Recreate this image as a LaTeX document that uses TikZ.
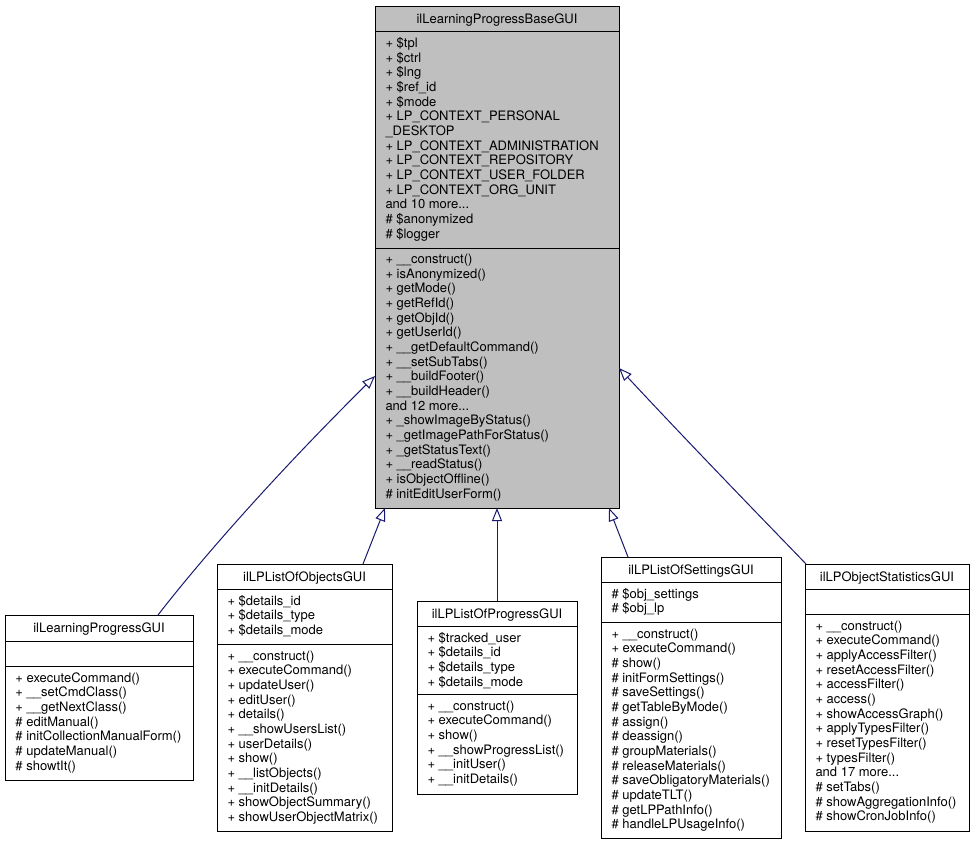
\documentclass[tikz,border=0pt]{standalone}
\usepackage{fontspec}
\setmainfont{TeX Gyre Heros}
\usetikzlibrary{arrows.meta,calc}
\definecolor{edgeblue}{HTML}{191970}
\definecolor{basegray}{HTML}{BFBFBF}
\tikzset{
  classbox/.style={draw=black, line width=1pt, inner sep=0pt, outer sep=0pt, anchor=north west},
  sepline/.style={draw=black, line width=1pt},
  txt/.style={inner sep=0pt, outer sep=0pt, font=\fontsize{13}{14.67}\selectfont},
  inh/.style={draw=edgeblue, line width=1pt, -{Triangle[length=13pt,width=10pt,fill=white]}},
}
\newcommand{\andmore}[1]{and #1 more...}
\newcommand{\umllines}[4]{\foreach \t [count=\i] in {#4} {\node[txt, anchor=base west] (#1-\i) at (#2, {#3+(\i-1)*14.67}) {\t};}}
\begin{document}
\begin{tikzpicture}[x=1pt, y=-1pt]
\useasboundingbox (0,0) rectangle (974,844);

% ---------- base class ----------
\node[classbox, fill=basegray, minimum width=244pt, minimum height=502pt] (base) at (375,6) {};
\node[txt, anchor=base] (base-t) at (497,23) {ilLearningProgressBaseGUI};
\draw[sepline] (375,31) -- (619,31);
\draw[sepline] (375,248) -- (619,248);
\umllines{base-a}{385.5}{47.5}{+ \$tpl, + \$ctrl, + \$lng, + \$ref\_id, + \$mode, + LP\_CONTEXT\_PERSONAL, \_DESKTOP, + LP\_CONTEXT\_ADMINISTRATION, + LP\_CONTEXT\_REPOSITORY, + LP\_CONTEXT\_USER\_FOLDER, + LP\_CONTEXT\_ORG\_UNIT, \andmore{10}, \# \$anonymized, \# \$logger}
\umllines{base-m}{385.5}{263.5}{+ \_\_construct(), + isAnonymized(), + getMode(), + getRefId(), + getObjId(), + getUserId(), + \_\_getDefaultCommand(), + \_\_setSubTabs(), + \_\_buildFooter(), + \_\_buildHeader(), \andmore{12}, + \_showImageByStatus(), + \_getImagePathForStatus(), + \_getStatusText(), + \_\_readStatus(), + isObjectOffline(), \# initEditUserForm()}

% ---------- ilLearningProgressGUI ----------
\node[classbox, fill=white, minimum width=188pt, minimum height=165pt] (lp) at (5,615) {};
\node[txt, anchor=base] (lp-t) at (99,632) {ilLearningProgressGUI};
\draw[sepline] (5,641) -- (193,641);
\draw[sepline] (5,666) -- (193,666);
\umllines{lp-m}{15.5}{682}{+ executeCommand(), + \_\_setCmdClass(), + \_\_getNextClass(), \# editManual(), \# initCollectionManualForm(), \# updateManual(), \# showtIt()}

% ---------- ilLPListOfObjectsGUI ----------
\node[classbox, fill=white, minimum width=175pt, minimum height=267pt] (obj) at (217,564) {};
\node[txt, anchor=base] (obj-t) at (304.5,581) {ilLPListOfObjectsGUI};
\draw[sepline] (217,589) -- (392,589);
\draw[sepline] (217,644) -- (392,644);
\umllines{obj-a}{227.5}{605}{+ \$details\_id, + \$details\_type, + \$details\_mode}
\umllines{obj-m}{227.5}{660}{+ \_\_construct(), + executeCommand(), + updateUser(), + editUser(), + details(), + \_\_showUsersList(), + userDetails(), + show(), + \_\_listObjects(), + \_\_initDetails(), + showObjectSummary(), + showUserObjectMatrix()}

% ---------- ilLPListOfProgressGUI ----------
\node[classbox, fill=white, minimum width=160pt, minimum height=193pt] (prog) at (417,601) {};
\node[txt, anchor=base] (prog-t) at (497,618) {ilLPListOfProgressGUI};
\draw[sepline] (417,626) -- (577,626);
\draw[sepline] (417,694) -- (577,694);
\umllines{prog-a}{427.5}{642}{+ \$tracked\_user, + \$details\_id, + \$details\_type, + \$details\_mode}
\umllines{prog-m}{427.5}{710}{+ \_\_construct(), + executeCommand(), + show(), + \_\_showProgressList(), + \_\_initUser(), + \_\_initDetails()}

% ---------- ilLPListOfSettingsGUI ----------
\node[classbox, fill=white, minimum width=180pt, minimum height=281pt] (set) at (601,557) {};
\node[txt, anchor=base] (set-t) at (691,574) {ilLPListOfSettingsGUI};
\draw[sepline] (601,582) -- (781,582);
\draw[sepline] (601,622) -- (781,622);
\umllines{set-a}{611.5}{598}{\# \$obj\_settings, \# \$obj\_lp}
\umllines{set-m}{611.5}{638}{+ \_\_construct(), + executeCommand(), \# show(), \# initFormSettings(), \# saveSettings(), \# getTableByMode(), \# assign(), \# deassign(), \# groupMaterials(), \# releaseMaterials(), \# saveObligatoryMaterials(), \# updateTLT(), \# getLPPathInfo(), \# handleLPUsageInfo()}

% ---------- ilLPObjectStatisticsGUI ----------
\node[classbox, fill=white, minimum width=164pt, minimum height=267pt] (stat) at (805,564) {};
\node[txt, anchor=base] (stat-t) at (887,581) {ilLPObjectStatisticsGUI};
\draw[sepline] (805,589) -- (969,589);
\draw[sepline] (805,614) -- (969,614);
\umllines{stat-m}{815.5}{630}{+ \_\_construct(), + executeCommand(), + applyAccessFilter(), + resetAccessFilter(), + accessFilter(), + access(), + showAccessGraph(), + applyTypesFilter(), + resetTypesFilter(), + typesFilter(), \andmore{17}, \# setTabs(), \# showAggregationInfo(), \# showCronJobInfo()}

% ---------- inheritance connectors ----------
\draw[inh] ($(lp.north)+(59,0)$) .. controls (185,580) and (255,495) .. ($(base.west)+(0,119)$);
\draw[inh] ($(obj.north)+(58.5,0)$) -- ($(base.south)+(-112,0)$);
\draw[inh] (prog.north) -- (base.south);
\draw[inh] ($(set.north)+(-63,0)$) -- ($(base.south)+(112,0)$);
\draw[inh] ($(stat.north west)+(1,0)$) .. controls (785,542) and (700,455) .. ($(base.east)+(0,111)$);
\end{tikzpicture}
\end{document}
